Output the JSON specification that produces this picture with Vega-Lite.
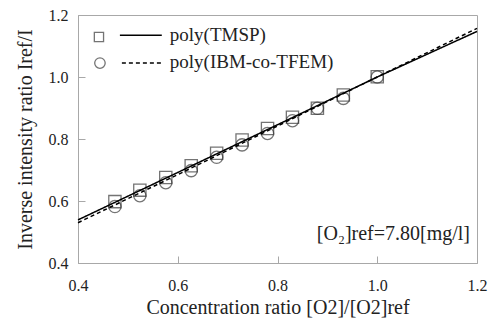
{
  "$schema": "https://vega.github.io/schema/vega-lite/v6.json",
  "width": 399,
  "height": 248,
  "autosize": {"type": "none"},
  "padding": {"left": 78, "top": 15, "right": 14, "bottom": 62},
  "background": "white",
  "config": {
    "font": "Liberation Serif",
    "view": {"stroke": "#a8a8a8", "strokeWidth": 1},
    "text": {"font": "Liberation Serif"},
    "axis": {
      "grid": false,
      "domainColor": "#a8a8a8",
      "tickColor": "#a8a8a8",
      "tickSize": -7,
      "labelFont": "Liberation Serif",
      "labelFontSize": 16,
      "labelColor": "#222222",
      "titleFont": "Liberation Serif",
      "titleFontSize": 20,
      "titleFontWeight": "normal",
      "titleColor": "#222222",
      "labelFlush": false,
      "labelBound": false,
      "labelOverlap": false
    }
  },
  "datasets": {
    "points": [
      {"x": 0.474, "y": 0.598, "series": "poly(TMSP)"},
      {"x": 0.524, "y": 0.635, "series": "poly(TMSP)"},
      {"x": 0.576, "y": 0.676, "series": "poly(TMSP)"},
      {"x": 0.627, "y": 0.714, "series": "poly(TMSP)"},
      {"x": 0.678, "y": 0.754, "series": "poly(TMSP)"},
      {"x": 0.729, "y": 0.797, "series": "poly(TMSP)"},
      {"x": 0.780, "y": 0.834, "series": "poly(TMSP)"},
      {"x": 0.830, "y": 0.870, "series": "poly(TMSP)"},
      {"x": 0.880, "y": 0.899, "series": "poly(TMSP)"},
      {"x": 0.932, "y": 0.942, "series": "poly(TMSP)"},
      {"x": 1.000, "y": 1.001, "series": "poly(TMSP)"},
      {"x": 0.474, "y": 0.582, "series": "poly(IBM-co-TFEM)"},
      {"x": 0.524, "y": 0.617, "series": "poly(IBM-co-TFEM)"},
      {"x": 0.576, "y": 0.659, "series": "poly(IBM-co-TFEM)"},
      {"x": 0.627, "y": 0.698, "series": "poly(IBM-co-TFEM)"},
      {"x": 0.678, "y": 0.741, "series": "poly(IBM-co-TFEM)"},
      {"x": 0.729, "y": 0.781, "series": "poly(IBM-co-TFEM)"},
      {"x": 0.780, "y": 0.818, "series": "poly(IBM-co-TFEM)"},
      {"x": 0.830, "y": 0.859, "series": "poly(IBM-co-TFEM)"},
      {"x": 0.880, "y": 0.899, "series": "poly(IBM-co-TFEM)"},
      {"x": 0.932, "y": 0.931, "series": "poly(IBM-co-TFEM)"},
      {"x": 1.000, "y": 1.000, "series": "poly(IBM-co-TFEM)"}
    ],
    "fits": [
      {"x": 0.4, "y": 0.539, "series": "poly(TMSP)"},
      {"x": 0.6, "y": 0.692, "series": "poly(TMSP)"},
      {"x": 0.8, "y": 0.846, "series": "poly(TMSP)"},
      {"x": 1.0, "y": 1.000, "series": "poly(TMSP)"},
      {"x": 1.2, "y": 1.147, "series": "poly(TMSP)"},
      {"x": 0.4, "y": 0.530, "series": "poly(IBM-co-TFEM)"},
      {"x": 0.6, "y": 0.685, "series": "poly(IBM-co-TFEM)"},
      {"x": 0.8, "y": 0.842, "series": "poly(IBM-co-TFEM)"},
      {"x": 1.0, "y": 1.000, "series": "poly(IBM-co-TFEM)"},
      {"x": 1.2, "y": 1.157, "series": "poly(IBM-co-TFEM)"}
    ],
    "one": [{}]
  },
  "layer": [
    {
      "data": {"name": "points"},
      "mark": {"type": "point", "filled": false, "size": 150, "strokeWidth": 1.3, "color": "#3a3a3a"},
      "encoding": {
        "x": {
          "field": "x", "type": "quantitative",
          "scale": {"domain": [0.4, 1.2], "nice": false, "zero": false},
          "axis": {"values": [0.4, 0.6, 0.8, 1.0, 1.2], "format": ".1f", "labelPadding": 21, "titlePadding": 4, "labelFont": "Liberation Serif", "titleFont": "Liberation Serif"},
          "title": "Concentration ratio [O2]/[O2]ref"
        },
        "y": {
          "field": "y", "type": "quantitative",
          "scale": {"domain": [0.4, 1.2], "nice": false, "zero": false},
          "axis": {"values": [0.4, 0.6, 0.8, 1.0, 1.2], "format": ".1f", "labelPadding": 17, "titlePadding": 13, "labelFont": "Liberation Serif", "titleFont": "Liberation Serif"},
          "title": "Inverse intensity ratio Iref/I"
        },
        "shape": {
          "field": "series", "type": "nominal",
          "scale": {"domain": ["poly(TMSP)", "poly(IBM-co-TFEM)"], "range": ["square", "circle"]},
          "legend": null
        }
      }
    },
    {
      "data": {"name": "fits"},
      "mark": {"type": "line", "color": "black", "strokeWidth": 1.5},
      "encoding": {
        "x": {"field": "x", "type": "quantitative"},
        "y": {"field": "y", "type": "quantitative"},
        "detail": {"field": "series"},
        "strokeDash": {
          "field": "series", "type": "nominal",
          "scale": {"domain": ["poly(TMSP)", "poly(IBM-co-TFEM)"], "range": [[1, 0], [4, 3]]},
          "legend": null
        }
      }
    },
    {
      "data": {"name": "one"},
      "mark": {"type": "point", "shape": "square", "filled": false, "size": 85, "strokeWidth": 1.3, "color": "#3a3a3a"},
      "encoding": {"x": {"datum": 0.442}, "y": {"datum": 1.129}}
    },
    {
      "data": {"name": "one"},
      "mark": {"type": "point", "shape": "circle", "filled": false, "size": 110, "strokeWidth": 1.3, "color": "#3a3a3a"},
      "encoding": {"x": {"datum": 0.444}, "y": {"datum": 1.045}}
    },
    {
      "data": {"name": "one"},
      "mark": {"type": "rule", "color": "black", "strokeWidth": 1.5},
      "encoding": {"x": {"datum": 0.484}, "x2": {"datum": 0.568}, "y": {"datum": 1.135}}
    },
    {
      "data": {"name": "one"},
      "mark": {"type": "rule", "color": "black", "strokeWidth": 1.5, "strokeDash": [4, 3]},
      "encoding": {"x": {"datum": 0.488}, "x2": {"datum": 0.568}, "y": {"datum": 1.045}}
    },
    {
      "data": {"name": "one"},
      "mark": {"type": "text", "align": "left", "baseline": "middle", "fontSize": 19, "font": "Liberation Serif", "color": "#222222"},
      "encoding": {"x": {"datum": 0.584}, "y": {"datum": 1.137}, "text": {"value": "poly(TMSP)"}}
    },
    {
      "data": {"name": "one"},
      "mark": {"type": "text", "align": "left", "baseline": "middle", "fontSize": 19, "font": "Liberation Serif", "color": "#222222"},
      "encoding": {"x": {"datum": 0.584}, "y": {"datum": 1.047}, "text": {"value": "poly(IBM-co-TFEM)"}}
    },
    {
      "data": {"name": "one"},
      "mark": {"type": "text", "align": "right", "baseline": "middle", "fontSize": 20, "font": "Liberation Serif", "color": "#222222"},
      "encoding": {"x": {"datum": 1.186}, "y": {"datum": 0.495}, "text": {"value": "[O₂]ref=7.80[mg/l]"}}
    }
  ]
}
